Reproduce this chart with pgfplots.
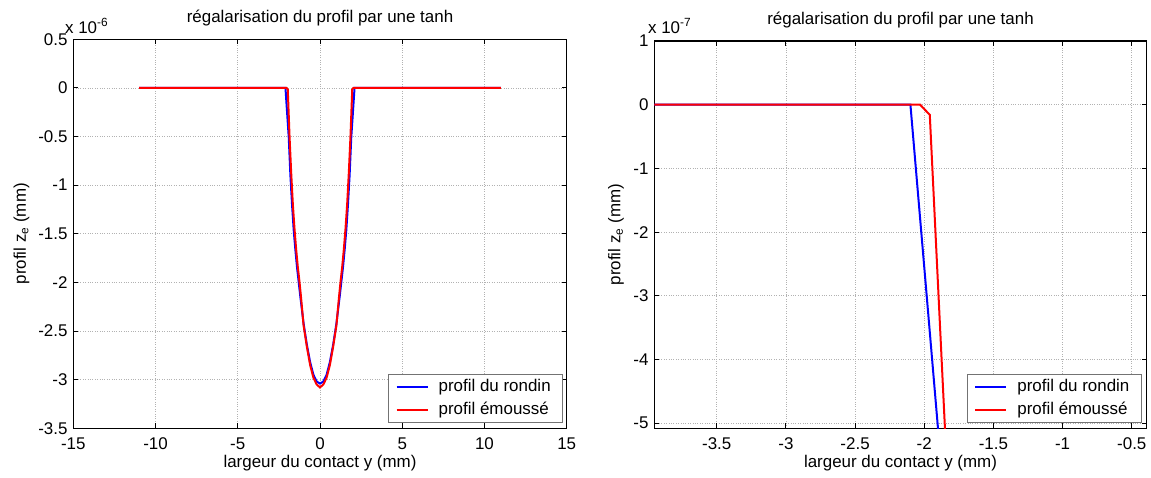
\documentclass[border=0pt]{standalone}
\usepackage{fontspec}
\setmainfont{Liberation Sans}
\usepackage{pgfplots}
\pgfplotsset{compat=1.18}
\definecolor{mblue}{RGB}{0,0,255}
\definecolor{mred}{RGB}{255,0,0}
\begin{document}
\fontsize{17}{20}\selectfont
\begin{tikzpicture}[x=1bp,y=1bp]
\path[use as bounding box] (0,0) rectangle (1151,478);
\pgfplotsset{
  every axis/.append style={
    scale only axis,
    clip mode=individual,
    font=\fontsize{17}{20}\selectfont,
    axis line style={line width=1.3bp},
    tick align=inside,
    major tick length=5bp,
    every tick/.style={line width=1bp, black},
    grid=major,
    major grid style={dotted, gray!60, line width=0.7bp},
    xticklabel style={yshift=-3.5bp},
    legend cell align=left,
    legend style={font=\fontsize{17}{20}\selectfont, draw=black!55, line width=0.6bp,
      inner xsep=7bp, inner ysep=1bp,
      nodes={inner xsep=5bp, inner ysep=3bp, text height=12.5bp, text depth=4.5bp},
      /tikz/every odd column/.append style={column sep=5bp}},
    legend image code/.code={\draw[#1] (0bp,0bp) -- (31bp,0bp);},
    every axis plot/.append style={line width=2bp},
  },
}
% ---------------- left axis ----------------
\begin{axis}[
  at={(73.3bp,49.7bp)}, anchor=south west,
  width=493.4bp, height=389bp,
  xmin=-15, xmax=15, ymin=-3.5, ymax=0.5,
  xtick={-15,-10,-5,0,5,10,15},
  xticklabels={-15,-10,-5,0,5,10,15},
  ytick={-3.5,-3,-2.5,-2,-1.5,-1,-0.5,0,0.5},
  yticklabels={-3.5,-3,-2.5,-2,-1.5,-1,-0.5,0,0.5},
  title={régalarisation du profil par une tanh},
  every axis title/.style={at={(axis description cs:0.5,1.054)}, anchor=center},
  xlabel={largeur du contact y (mm)},
  every axis x label/.style={at={(axis description cs:0.5,-0.089)}, anchor=center},
  ylabel={profil z\textsubscript{e} (mm)},
  every axis y label/.style={at={(axis description cs:-0.105,0.5)}, rotate=90, anchor=center},
  legend style={at={(axis description cs:1,0)}, anchor=south east, xshift=-3.7bp, yshift=5.3bp},
]
\addplot[mblue] coordinates {
(-11,0) (-2.1,0) (-1.9,-0.51) (-1.8,-0.90) (-1.7,-1.20) (-1.6,-1.46) (-1.5,-1.66)
(-1.4,-1.84) (-1.3,-1.99) (-1.2,-2.14) (-1.0,-2.42) (-0.8,-2.64) (-0.6,-2.82)
(-0.4,-2.95) (-0.2,-3.02) (0,-3.04)
(0.2,-3.02) (0.4,-2.95) (0.6,-2.82) (0.8,-2.64) (1.0,-2.42) (1.2,-2.14) (1.3,-1.99)
(1.4,-1.84) (1.5,-1.66) (1.6,-1.46) (1.7,-1.20) (1.8,-0.90) (1.9,-0.51) (2.1,0) (11,0)
};
\addlegendentry{profil du rondin}
\addplot[mred] coordinates {
(-11,0) (-2.03,0) (-1.96,-0.016) (-1.85,-0.51) (-1.75,-0.88) (-1.65,-1.20) (-1.55,-1.45)
(-1.45,-1.66) (-1.35,-1.84) (-1.25,-1.99) (-1.15,-2.16) (-1.0,-2.44) (-0.8,-2.66)
(-0.6,-2.85) (-0.4,-2.98) (-0.2,-3.05) (0,-3.08)
(0.2,-3.05) (0.4,-2.98) (0.6,-2.85) (0.8,-2.66) (1.0,-2.44) (1.15,-2.16) (1.25,-1.99)
(1.35,-1.84) (1.45,-1.66) (1.55,-1.45) (1.65,-1.20) (1.75,-0.88) (1.85,-0.51)
(1.96,-0.016) (2.03,0) (11,0)
};
\addlegendentry{profil émoussé}
\node[anchor=base west, inner sep=0pt] at (axis description cs:-0.017,1.016) {x 10\textsuperscript{-6}};
\end{axis}
% ---------------- right axis ----------------
\begin{axis}[
  at={(654.3bp,49.7bp)}, anchor=south west,
  width=492.4bp, height=387.3bp,
  xmin=-3.951, xmax=-0.392, ymin=-5.08, ymax=1,
  xtick={-3.5,-3,-2.5,-2,-1.5,-1,-0.5},
  xticklabels={-3.5,-3,-2.5,-2,-1.5,-1,-0.5},
  ytick={-5,-4,-3,-2,-1,0,1},
  yticklabels={-5,-4,-3,-2,-1,0,1},
  title={régalarisation du profil par une tanh},
  every axis title/.style={at={(axis description cs:0.5,1.054)}, anchor=center},
  xlabel={largeur du contact y (mm)},
  every axis x label/.style={at={(axis description cs:0.5,-0.0896)}, anchor=center},
  ylabel={profil z\textsubscript{e} (mm)},
  every axis y label/.style={at={(axis description cs:-0.078,0.5)}, rotate=90, anchor=center},
  legend style={at={(axis description cs:1,0)}, anchor=south east, xshift=-5bp, yshift=5.3bp},
]
\addplot[mblue] coordinates {
(-11,0) (-2.1,0) (-1.9,-5.1) (-1.8,-9.0) (-1.7,-12.0)
};
\addlegendentry{profil du rondin}
\addplot[mred] coordinates {
(-11,0) (-2.03,0) (-1.96,-0.16) (-1.85,-5.1) (-1.75,-8.8)
};
\addlegendentry{profil émoussé}
\node[anchor=base west, inner sep=0pt] at (axis description cs:-0.013,1.02) {x 10\textsuperscript{-7}};
\end{axis}
\end{tikzpicture}
\end{document}
